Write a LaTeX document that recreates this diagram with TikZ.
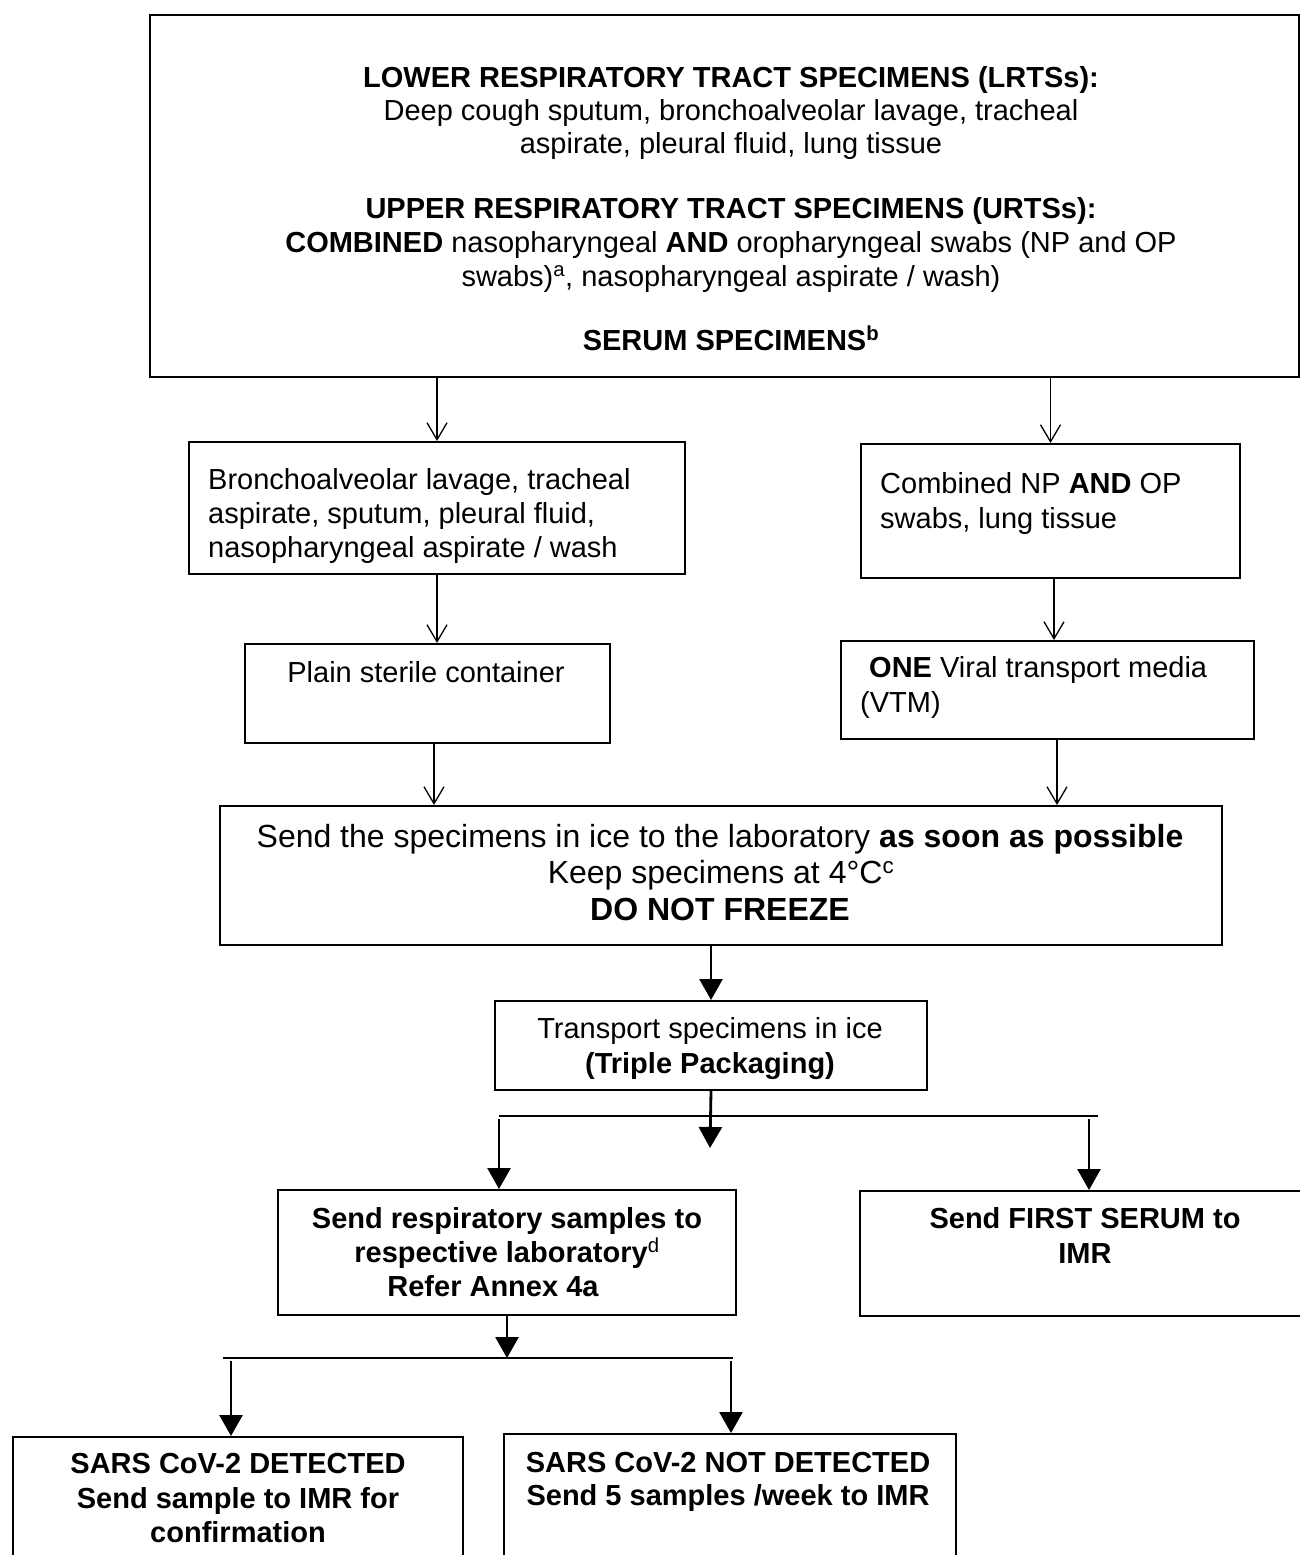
\documentclass[tikz,border=0pt]{standalone}
\usepackage{fontspec}
\setmainfont{Liberation Sans}
\usetikzlibrary{arrows.meta}
\tikzset{
  box/.style={draw, line width=2pt, inner sep=0pt, anchor=north west},
  tc/.style={inner sep=0pt, anchor=base, font=\fontsize{29}{33}\selectfont},
  tl/.style={inner sep=0pt, anchor=base west, font=\fontsize{29}{33}\selectfont},
  tbig/.style={inner sep=0pt, anchor=base, font=\fontsize{32}{36}\selectfont},
  thinarr/.style={line width=1.3pt, -{Straight Barb[length=17pt,width=20pt]}},
  thickarr/.style={line width=2.8pt, -{Triangle[length=21pt,width=23pt]}},
  bar/.style={line width=2pt}
}
\begin{document}
\begin{tikzpicture}[x=1pt,y=-1pt]
\useasboundingbox (0,0) rectangle (1300,1555);
\clip (0,0) rectangle (1300,1555);
% boxes
\node[box, minimum width=1149pt, minimum height=362pt] (top) at (149,14) {};
\node[box, minimum width=496pt, minimum height=132pt] (b1) at (188,441) {};
\node[box, minimum width=379pt, minimum height=134pt] (b2) at (860,443) {};
\node[box, minimum width=365pt, minimum height=99pt] (c1) at (244,643) {};
\node[box, minimum width=413pt, minimum height=98pt] (c2) at (840,640) {};
\node[box, minimum width=1002pt, minimum height=139pt] (d) at (219,805) {};
\node[box, minimum width=432pt, minimum height=89pt] (e) at (494,1000) {};
\node[box, minimum width=458pt, minimum height=125pt] (f1) at (277,1189) {};
\node[box, minimum width=470pt, minimum height=125pt] (f2) at (859,1190) {};
\node[box, minimum width=450pt, minimum height=170pt] (g1) at (12,1436) {};
\node[box, minimum width=452pt, minimum height=170pt] (g2) at (503,1433) {};
% texts
\node[tc] (t1) at (731,87) {\bfseries LOWER RESPIRATORY TRACT SPECIMENS (LRTSs):};
\node[tc] (t2) at (731,120) {Deep cough sputum, bronchoalveolar lavage, tracheal};
\node[tc] (t3) at (731,153) {aspirate, pleural fluid, lung tissue};
\node[tc] (t4) at (731,218) {\bfseries UPPER RESPIRATORY TRACT SPECIMENS (URTSs):};
\node[tc] (t5) at (731,252) {\textbf{COMBINED} nasopharyngeal \textbf{AND} oropharyngeal swabs (NP and OP};
\node[tc] (t6) at (731,286) {swabs)\textsuperscript{a}, nasopharyngeal aspirate / wash)};
\node[tc] (t7) at (731,350) {\bfseries SERUM SPECIMENS\textsuperscript{b}};
\node[tl] (tb1) at (208,489) {Bronchoalveolar lavage, tracheal};
\node[tl] (tb2) at (208,523) {aspirate, sputum, pleural fluid,};
\node[tl] (tb3) at (208,557) {nasopharyngeal aspirate / wash};
\node[tl] (tb4) at (880,493) {Combined NP \textbf{AND} OP};
\node[tl] (tb5) at (880,528) {swabs, lung tissue};
\node[tc] (tc1) at (426,682) {Plain sterile container};
\node[tl] (tc2) at (869,677) {\textbf{ONE} Viral transport media};
\node[tl] (tc3) at (860,712) {(VTM)};
\node[tbig] (td1) at (720,847) {Send the specimens in ice to the laboratory \textbf{as soon as possible}};
\node[tbig] (td2) at (721,883) {Keep specimens at 4°C\textsuperscript{c}};
\node[tbig] (td3) at (720,920) {\bfseries DO NOT FREEZE};
\node[tc] (te1) at (710,1038) {Transport specimens in ice};
\node[tc] (te2) at (710,1073) {\bfseries (Triple Packaging)};
\node[tc] (tf1) at (507,1228) {\bfseries Send respiratory samples to};
\node[tc] (tf2) at (507,1262) {\bfseries respective laboratory\textsuperscript{\mdseries d}};
\node[tc] (tf3) at (493,1296) {\bfseries Refer Annex 4a};
\node[tc] (tf4) at (1085,1228) {\bfseries Send FIRST SERUM to};
\node[tc] (tf5) at (1085,1263) {\bfseries IMR};
\node[tc] (tg1) at (238,1473) {\bfseries SARS CoV-2 DETECTED};
\node[tc] (tg2) at (238,1508) {\bfseries Send sample to IMR for};
\node[tc] (tg3) at (238,1542) {\bfseries confirmation};
\node[tc] (tg4) at (728,1472) {\bfseries SARS CoV-2 NOT DETECTED};
\node[tc] (tg5) at (728,1505) {\bfseries Send 5 samples /week to IMR};
% helper coordinates
\coordinate (xb2) at (1054,0);
\coordinate (xc1) at (434,0);
\coordinate (xc2) at (1057,0);
\coordinate (mid) at (710,1148);
\coordinate (sl) at (499,1116);
\coordinate (sr) at (1098,1116);
\coordinate (sr2) at (1089,1116);
\coordinate (ql) at (223,1358);
\coordinate (qr) at (733,1358);
\coordinate (ql2) at (231,1358);
\coordinate (qr2) at (731,1358);
% connectors
\draw[thinarr] (top.south -| b1.north) -- (b1.north);
\draw[thinarr] (top.south -| b2.north) -- (b2.north);
\draw[thinarr] (b1.south) -- (b1.south |- c1.north);
\draw[thinarr] (b2.south -| xb2) -- (c2.north -| xb2);
\draw[thinarr] (c1.south -| xc1) -- (d.north -| xc1);
\draw[thinarr] (c2.south -| xc2) -- (d.north -| xc2);
\draw[thickarr] (d.south -| e.north) -- (e.north);
\draw[thickarr] (e.south) -- (mid);
\draw[bar] (sl) -- (sr);
\draw[thickarr] ([yshift=-3pt]sl) -- (sl |- f1.north);
\draw[thickarr] ([yshift=-3pt]sr2) -- (sr2 |- f2.north);
\draw[thickarr] (f1.south) -- (f1.south |- ql);
\draw[bar] (ql) -- (qr);
\draw[thickarr] ([yshift=-3pt]ql2) -- (ql2 |- g1.north);
\draw[thickarr] ([yshift=-3pt]qr2) -- (qr2 |- g2.north);
\end{tikzpicture}
\end{document}
